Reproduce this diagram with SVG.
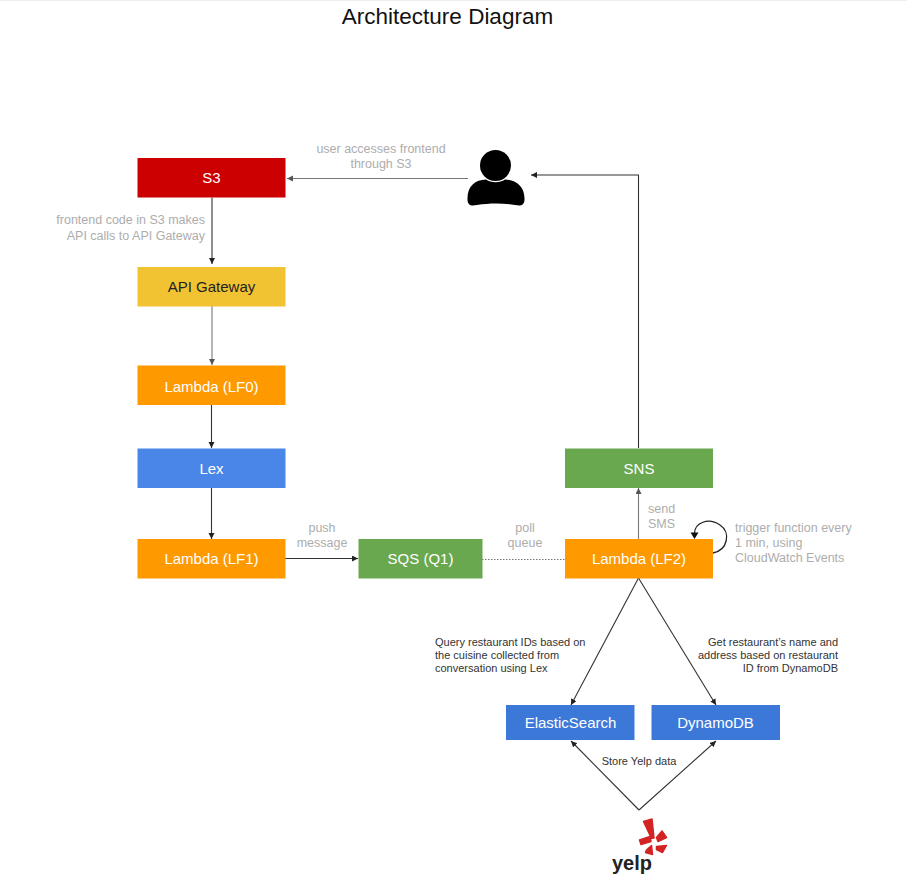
<svg xmlns="http://www.w3.org/2000/svg" width="907" height="895" viewBox="0 0 907 895">
<defs>
<marker id="ah" markerUnits="userSpaceOnUse" markerWidth="7" markerHeight="7" refX="6" refY="3" orient="auto"><path d="M0 0L6 3L0 6Z" fill="#222"/></marker>
<marker id="ag" markerUnits="userSpaceOnUse" markerWidth="7" markerHeight="7" refX="6" refY="3" orient="auto"><path d="M0 0L6 3L0 6Z" fill="#555"/></marker>
</defs>
<style>
text{font-family:"Liberation Sans",Arial,sans-serif}
.n{font-size:15px;text-anchor:middle;fill:#fff}
.g{font-size:12.5px;fill:#adadad}
.k{font-size:11px;fill:#333}
.m{text-anchor:middle}
.e{text-anchor:end}
.c{fill:none;stroke:#333;stroke-width:1.1;marker-end:url(#ah)}
.cg{fill:none;stroke:#777;stroke-width:1.1;marker-end:url(#ag)}
.y{fill:#d32323;stroke:#d32323;stroke-width:1.5;stroke-linejoin:round}
</style>
<rect width="907" height="895" fill="#fff"/>
<rect width="907" height="1" fill="#eeeeee"/>
<text id="title" x="447.500" y="23.500" text-anchor="middle" font-size="22.500" fill="#111">Architecture Diagram</text>
<g id="connectors">
<path class="cg" d="M468 178.500H287"/>
<path class="c" d="M638.500 448V175H531"/>
<path class="c" d="M212 197.500V264"/>
<path class="cg" d="M212 306V365"/>
<path class="c" d="M211.500 405V448"/>
<path class="c" d="M211.500 488V539"/>
<path class="c" d="M285 558.500H358"/>
<path d="M482 559.500H565" fill="none" stroke="#777" stroke-width="1" stroke-dasharray="1.500 1.500"/>
<path class="cg" d="M638.500 539V488"/>
<path d="M713 553C728 550 731 532 720 525C708 517 695 523 694.500 533" fill="none" stroke="#222" stroke-width="1.300"/>
<path d="M690.500 532.500H698.500L694.500 539Z" fill="#111"/>
<path class="c" d="M638.500 578L571 705"/>
<path class="c" d="M638.500 578L716 705"/>
<path class="c" d="M639 810L571 741"/>
<path class="c" d="M639 810L716 741"/>
</g>
<g id="s3"><rect x="137.500" y="158" width="148" height="39.500" fill="#cc0000"/><text class="n" x="211.500" y="183">S3</text></g>
<g id="api-gateway"><rect x="137.500" y="267" width="148" height="39.500" fill="#f1c232"/><text class="n" x="211.500" y="292" style="fill:#222">API Gateway</text></g>
<g id="lf0"><rect x="137.500" y="365.500" width="148" height="39.500" fill="#ff9900"/><text class="n" x="211.500" y="392">Lambda (LF0)</text></g>
<g id="lex"><rect x="137.500" y="448.500" width="148" height="39.500" fill="#4a86e8"/><text class="n" x="211.500" y="473.500">Lex</text></g>
<g id="lf1"><rect x="137.500" y="539" width="148" height="39.500" fill="#ff9900"/><text class="n" x="211.500" y="564">Lambda (LF1)</text></g>
<g id="sqs"><rect x="358.500" y="539" width="124" height="39.500" fill="#6aa84f"/><text class="n" x="420.500" y="564">SQS (Q1)</text></g>
<g id="lf2"><rect x="565" y="539" width="148" height="39.500" fill="#ff9900"/><text class="n" x="639" y="564">Lambda (LF2)</text></g>
<g id="sns"><rect x="565" y="448.500" width="148" height="39.500" fill="#6aa84f"/><text class="n" x="639" y="473.500">SNS</text></g>
<g id="elasticsearch"><rect x="506" y="705" width="128.500" height="35" fill="#3c78d8"/><text class="n" x="570.500" y="728">ElasticSearch</text></g>
<g id="dynamodb"><rect x="651.500" y="705" width="128.500" height="35" fill="#3c78d8"/><text class="n" x="715.500" y="728">DynamoDB</text></g>
<g id="user">
<circle cx="495.500" cy="165.500" r="15.500" fill="#000"/>
<path d="M467.500 200C467 186 475 180 486 179.500C491 183 500 183 505 179.500C517 180 525 187 524.500 200C524 206 520 206 515 205C502 203 490 203 477 205C472 206 468 206 467.500 200Z" fill="#000"/>
</g>
<g id="yelp">
<path class="y" d="M643.500 821.500L652 819L654 838L651.500 838.500Z"/>
<path class="y" d="M639.500 840L650 836.500L651 841.500L641 844.500Z"/>
<path class="y" d="M656.500 837.500L662 831L666.500 837.500L658 841.500Z"/>
<path class="y" d="M656.500 846.500L666.500 845.500L662.500 852.500L656.500 849.500Z"/>
<path class="y" d="M651.500 845.500L652.500 854.500L645.500 852.500L646.500 850Z"/>
<text x="632" y="870" text-anchor="middle" font-size="20" font-weight="700" fill="#222">yelp</text>
</g>
<g id="labels">
<text class="g m" x="381" y="153">user accesses frontend</text>
<text class="g m" x="381" y="167.500">through S3</text>
<text class="g e" x="205" y="224">frontend code in S3 makes</text>
<text class="g e" x="205" y="240">API calls to API Gateway</text>
<text class="g m" x="322" y="532">push</text>
<text class="g m" x="322" y="547">message</text>
<text class="g m" x="525" y="532">poll</text>
<text class="g m" x="525" y="547">queue</text>
<text class="g" x="648" y="513">send</text>
<text class="g" x="648" y="528">SMS</text>
<text class="g" x="735" y="532">trigger function every</text>
<text class="g" x="735" y="547">1 min, using</text>
<text class="g" x="735" y="561.500">CloudWatch Events</text>
<text class="k" x="435" y="645.500">Query restaurant IDs based on</text>
<text class="k" x="435" y="658.500">the cuisine collected from</text>
<text class="k" x="435" y="671.500">conversation using Lex</text>
<text class="k e" x="838" y="645.500">Get restaurant’s name and</text>
<text class="k e" x="838" y="658.500">address based on restaurant</text>
<text class="k e" x="838" y="671.500">ID from DynamoDB</text>
<text class="k m" x="639" y="765">Store Yelp data</text>
</g>
</svg>
